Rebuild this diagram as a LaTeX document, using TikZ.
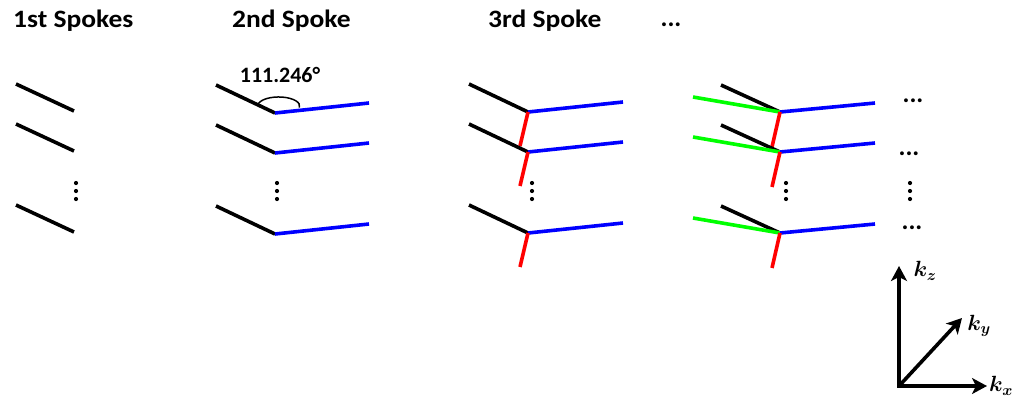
\documentclass[tikz,border=0pt]{standalone}
\usepackage{fix-cm}
\usepackage{amsmath}
\usepackage{bm}
\usepackage{fontspec}
\setmainfont{Carlito}
\usetikzlibrary{arrows.meta}

\newcommand{\widetitle}[1]{\scalebox{1.1}[1]{#1}}

\begin{document}
\begin{tikzpicture}[x=1pt,y=-1pt,
  title/.style={font=\fontsize{25}{28}\selectfont\bfseries, anchor=base west, inner sep=0pt},
  ell/.style={font=\fontsize{26}{28}\selectfont\bfseries, inner sep=0pt},
  spoke/.style={line width=3.6pt},
  kspoke/.style={spoke, black},
  bspoke/.style={spoke, blue},
  rspoke/.style={spoke, red},
  gspoke/.style={spoke, green},
  vdot/.style={fill=black, circle, inner sep=0pt, minimum size=4.2pt},
  axis/.style={line width=3.6pt, -{Stealth[length=15pt,width=16pt,inset=4pt]}},
  klabel/.style={font=\fontsize{22}{24}\selectfont, inner sep=0pt}]
\useasboundingbox (0,0) rectangle (1016,400);

% column headings
\node[title] (t1) at (13,27) {\widetitle{1st Spokes}};
\node[title] (t2) at (232,27) {\widetitle{2nd Spoke}};
\node[title] (t3) at (488,27) {\widetitle{3rd Spoke}};
\node[ell] (t4) at (671,25) {...};

% spokes, one row per readout
\foreach \r/\vy in {1/112,2/152,3/233}{
  % first spokes only
  \coordinate (a\r) at (16,\vy-28);
  \coordinate (A\r) at (74,\vy-1);
  \draw[kspoke] (a\r) -- (A\r);
  % second spoke added (blue)
  \coordinate (b\r) at (216,\vy-27);
  \coordinate (B\r) at (275,\vy+1);
  \coordinate (bb\r) at (369,\vy-9);
  \draw[kspoke] (b\r) -- (B\r);
  \draw[bspoke] (B\r) -- (bb\r);
  % third spoke added (red)
  \coordinate (c\r) at (469,\vy-28);
  \coordinate (C\r) at (528,\vy);
  \coordinate (cb\r) at (623,\vy-10);
  \coordinate (cr\r) at (520,\vy+34);
  \draw[kspoke] (c\r) -- (C\r);
  \draw[bspoke] (C\r) -- (cb\r);
  \draw[rspoke] (C\r) -- (cr\r);
  % further spokes (green)
  \coordinate (d\r) at (721,\vy-27);
  \coordinate (D\r) at (780,\vy);
  \coordinate (dg\r) at (693,\vy-15);
  \coordinate (db\r) at (875,\vy-9);
  \coordinate (dr\r) at (772,\vy+35);
  \draw[kspoke] (d\r) -- (D\r);
  \draw[gspoke] (dg\r) -- (D\r);
  \draw[bspoke] (D\r) -- (db\r);
  \draw[rspoke] (D\r) -- (dr\r);
}

% angle between first and second spoke
\draw[line width=1.5pt] (258,104.4) arc[start angle=170, end angle=-10, x radius=21pt, y radius=9pt];
\node[font=\fontsize{22}{26}\selectfont\bfseries, anchor=base, inner sep=0pt] (ang) at (280,82) {111.246°};

% vertical ellipses between rows
\foreach \c/\x in {1/76,2/277,3/532,4/786,5/910}{
  \node[vdot] (v\c a) at (\x,183) {};
  \node[vdot] (v\c b) at (\x,191) {};
  \node[vdot] (v\c c) at (\x,199) {};
}

% trailing ellipses
\node[ell] (e1) at (913,101) {...};
\node[ell] (e2) at (909,154) {...};
\node[ell] (e3) at (912,228) {...};

% k-space axes
\coordinate (O) at (899,386);
\coordinate (Kz) at (899,266);
\coordinate (Kx) at (987,386);
\coordinate (Ky) at (962,318);
\draw[axis, line cap=rect] (O) -- (Kz);
\draw[axis, line cap=rect] (O) -- (Kx);
\draw[axis] (O) -- (Ky);
\node[klabel] (lz) at (925,271) {$\bm{k_z}$};
\node[klabel] (ly) at (979,326) {$\bm{k_y}$};
\node[klabel] (lx) at (1001,386) {$\bm{k_x}$};
\end{tikzpicture}
\end{document}
